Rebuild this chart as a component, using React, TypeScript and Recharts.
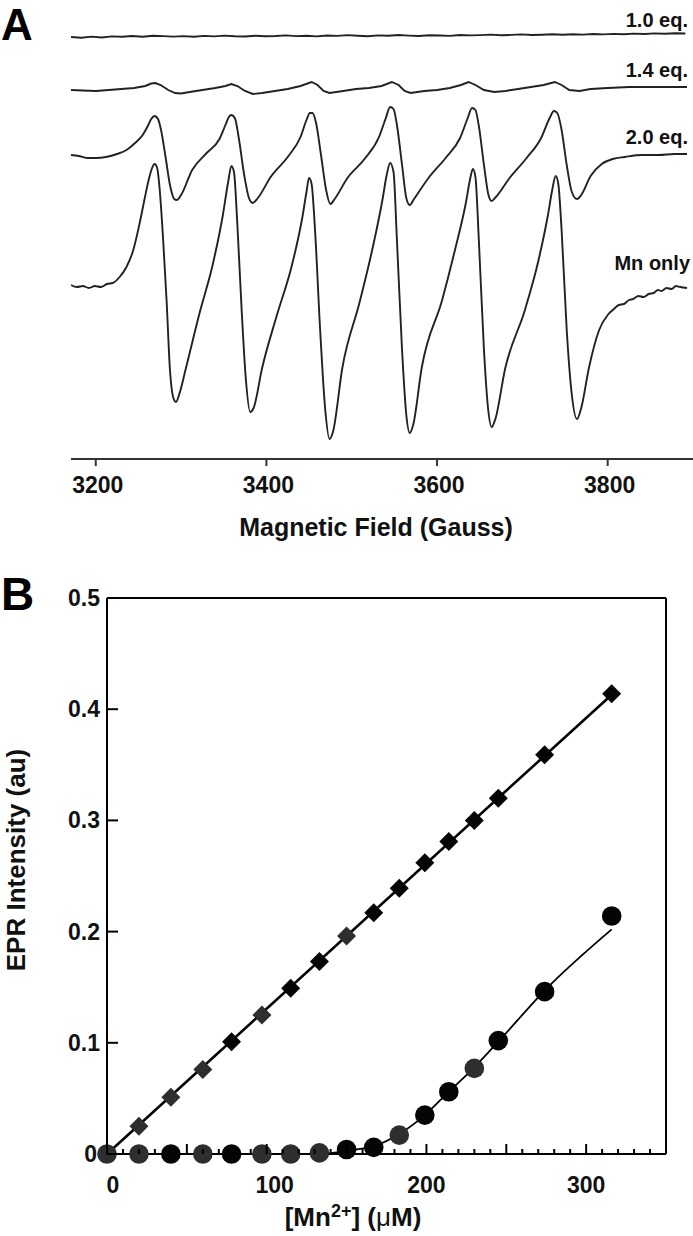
import React from "react";
import {
  LineChart,
  Line,
  XAxis,
  YAxis,
  ComposedChart,
  Scatter,
  Label,
  ReferenceLine,
} from "recharts";

const FONT = '"Liberation Sans", Arial, Helvetica, sans-serif';

// ---------------- Panel A: EPR spectra (field in Gauss, signal in arbitrary units) ----------------
const eq10Field = [3171, 3183, 3195, 3207, 3219, 3231, 3243, 3255, 3267, 3279, 3291, 3303, 3315, 3327, 3339, 3351, 3363, 3375, 3387, 3399, 3411, 3423, 3435, 3447, 3459, 3471, 3483, 3495, 3507, 3519, 3531, 3543, 3555, 3567, 3579, 3591, 3603, 3615, 3627, 3639, 3651, 3663, 3675, 3687, 3699, 3711, 3723, 3735, 3747, 3759, 3771, 3783, 3795, 3807, 3819, 3831, 3843, 3855, 3867, 3879, 3891];
const eq10Signal = [0.0, -0.8, 0.4, -0.5, 0.6, 0.2, 1.0, 0.3, 1.2, 0.9, 0.4, 0.9, 0.2, 1.1, 0.6, 1.4, 0.8, 0.5, 1.3, 0.7, 1.0, 1.6, 0.9, 1.2, 0.6, 1.5, 1.1, 1.9, 1.3, 0.8, 1.6, 1.2, 2.0, 1.4, 1.0, 1.8, 1.5, 1.1, 2.0, 1.6, 1.9, 2.4, 1.7, 2.1, 2.6, 2.0, 2.3, 2.8, 2.2, 2.7, 2.4, 3.0, 2.6, 3.1, 2.8, 3.4, 3.0, 3.6, 3.2, 3.8, 3.5];

const eq14Field = [3171, 3185, 3200, 3215, 3230, 3245, 3258, 3265, 3270, 3276, 3285, 3293, 3300, 3310, 3325, 3340, 3352, 3359, 3366, 3375, 3384, 3395, 3410, 3425, 3440, 3453, 3460, 3467, 3474, 3490, 3505, 3520, 3535, 3547, 3555, 3562, 3569, 3585, 3600, 3615, 3628, 3637, 3645, 3655, 3667, 3680, 3695, 3710, 3725, 3738, 3746, 3755, 3767, 3780, 3800, 3825, 3850, 3875, 3893];
const eq14Signal = [0, -0.5, -1, 0, 1, 2, 4, 6.5, 7, 5, 0, -3, -3.5, -2, 0, 2, 4, 6, 4, -1, -4, -3, -1, 1, 4, 8, 5, -1, -3, -1, 1, 2, 4, 8, 5, -1, -3, -1, 0, 2, 5, 8, 5, 0, -2, -1, 1, 3, 5, 8, 5, 0, -1, 1, 2, 3, 3, 3, 3];

const eq20Field = [3171, 3180, 3190, 3201, 3212, 3225, 3236, 3246, 3255, 3261, 3265, 3269, 3273, 3277, 3282, 3287, 3292, 3295, 3300, 3313, 3330, 3345, 3352, 3356, 3359, 3363, 3368, 3374, 3380, 3384, 3390, 3405, 3425, 3440, 3447, 3451, 3454, 3458, 3464, 3470, 3475, 3480, 3495, 3515, 3532, 3540, 3545, 3549, 3553, 3559, 3564, 3568, 3573, 3590, 3610, 3627, 3636, 3641, 3645, 3649, 3655, 3660, 3664, 3669, 3685, 3705, 3722, 3732, 3737, 3741, 3746, 3752, 3758, 3764, 3769, 3780, 3793, 3806, 3820, 3840, 3860, 3878, 3893];
const eq20Signal = [0, -1, -3, -3, -2, 1, 5, 12, 20, 29, 36, 39, 36, 23, -3, -30, -44, -45, -40, -15, 2, 16, 30, 38, 40, 37, 15, -20, -44, -48, -43, -22, -2, 18, 35, 42, 42, 33, 0, -35, -49, -44, -23, -4, 18, 37, 48, 46, 30, -10, -43, -50, -44, -23, -3, 17, 37, 47, 45, 29, -10, -39, -46, -42, -23, -3, 17, 37, 44, 42, 25, -10, -37, -44, -40, -21, -9, -4, -2, 0, 0, 1, 1];

const mnField = [3171, 3178, 3185, 3192, 3199, 3206, 3213, 3220, 3228, 3236, 3244, 3251, 3257, 3262, 3266, 3269, 3272, 3275, 3279, 3283, 3287, 3291, 3294, 3298, 3306, 3322, 3337, 3349, 3355, 3359, 3362, 3366, 3371, 3376, 3381, 3385, 3395, 3412, 3430, 3442, 3447, 3450, 3453, 3457, 3463, 3469, 3474, 3478, 3489, 3509, 3524, 3536, 3541, 3545, 3549, 3553, 3559, 3564, 3568, 3572, 3582, 3606, 3621, 3634, 3639, 3642, 3645, 3649, 3655, 3660, 3664, 3668, 3680, 3703, 3719, 3730, 3735, 3739, 3742, 3746, 3752, 3758, 3764, 3769, 3778, 3790, 3800, 3806, 3813, 3819, 3825, 3830, 3836, 3842, 3848, 3854, 3859, 3863, 3869, 3875, 3880, 3885, 3893];
const mnSignal = [0, -2, -1, -3, -1, -2, 1, 2, 8, 18, 35, 60, 85, 105, 117, 121, 117, 95, 45, -15, -85, -113, -117, -109, -82, -27, 20, 70, 102, 119, 113, 60, -25, -95, -127, -123, -83, -31, 20, 67, 93, 107, 101, 55, -45, -125, -154, -147, -83, -18, 35, 85, 110, 122, 113, 45, -65, -130, -148, -140, -83, -15, 35, 83, 107, 116, 108, 45, -65, -125, -142, -135, -83, -25, 25, 70, 95, 109, 102, 55, -45, -110, -134, -123, -83, -45, -30, -25, -20, -19, -15, -14, -11, -12, -9, -8, -5, -6, -3, -4, -1, -2, -3];

const traceLabels = ["1.0 eq.", "1.4 eq.", "2.0 eq.", "Mn only"];
const traceOffsets = [422, 369, 304, 174];
const fieldTicks = [3200, 3400, 3600, 3800];

// ---------------- Panel B: titration ----------------
const diamondGreyConc = [20, 40, 60, 97, 150];
const diamondGreyInt = [0.025, 0.051, 0.076, 0.125, 0.196];
const diamondBlackConc = [78, 115, 133, 167, 183, 199, 214, 230, 245, 274, 316];
const diamondBlackInt = [0.101, 0.149, 0.173, 0.217, 0.239, 0.262, 0.281, 0.300, 0.320, 0.359, 0.414];
const diamondFitConc = [0, 316];
const diamondFitInt = [0, 0.413];

const circleGreyConc = [0, 20, 60, 97, 115, 133, 183, 230];
const circleGreyInt = [0, 0, 0, 0, 0, 0.001, 0.017, 0.077];
const circleBlackConc = [40, 78, 150, 167, 199, 214, 245, 274, 316];
const circleBlackInt = [0, 0, 0.004, 0.006, 0.035, 0.056, 0.102, 0.146, 0.214];
const circleFitConc = [0, 133, 150, 167, 183, 199, 214, 230, 245, 274, 316];
const circleFitInt = [0, 0, 0.003, 0.007, 0.018, 0.035, 0.056, 0.078, 0.101, 0.147, 0.202];

const intensityTicks = [0, 0.1, 0.2, 0.3, 0.4, 0.5];
const concTicks = [0, 10, 20, 30, 40, 50, 60, 70, 80, 90, 100, 110, 120, 130, 140, 150, 160, 170, 180, 190, 200, 210, 220, 230, 240, 250, 260, 270, 280, 290, 300, 310, 320, 330, 340, 350];

const toSeries = (xs: number[], ys: number[], off = 0) =>
  xs.map((x, i) => ({ x, y: ys[i] + off }));

const spectra = [
  toSeries(eq10Field, eq10Signal, traceOffsets[0]),
  toSeries(eq14Field, eq14Signal, traceOffsets[1]),
  toSeries(eq20Field, eq20Signal, traceOffsets[2]),
  toSeries(mnField, mnSignal, traceOffsets[3]),
];
const curveTypes: any[] = ["linear", "linear", "monotone", "monotone"];

// layout constants
const A_W = 693;
const A_H = 560;
const A_BOTTOM = 459;
const B_H = 676;
const B_LEFT = 107;
const B_BOTTOM = 594;

const FieldTick = (props: any) => {
  const { x, payload } = props;
  return (
    <g>
      <line x1={x} x2={x} y1={A_BOTTOM} y2={A_BOTTOM + 7} stroke="#333" strokeWidth={2} />
      <text x={x + 2} y={493} textAnchor="middle" fontFamily={FONT} fontWeight="bold" fontSize={23} fill="#111">
        {payload.value}
      </text>
    </g>
  );
};

const IntensityTick = (props: any) => {
  const { y, payload } = props;
  const v = payload.value as number;
  return (
    <g>
      <line x1={B_LEFT} x2={B_LEFT + 11} y1={y} y2={y} stroke="#000" strokeWidth={2} />
      <text x={v === 0 ? 97 : 100} y={y + 8} textAnchor="end" fontFamily={FONT} fontWeight="bold" fontSize={23} fill="#111">
        {v === 0 ? "0" : v.toFixed(1)}
      </text>
    </g>
  );
};

const ConcTick = (props: any) => {
  const { x, payload } = props;
  const v = payload.value as number;
  const major = v % 50 === 0;
  return (
    <g>
      <line x1={x} x2={x} y1={B_BOTTOM} y2={B_BOTTOM - (major ? 10 : 5)} stroke="#000" strokeWidth={2} />
      {v % 100 === 0 && (
        <text x={x + (v === 0 ? 6 : v === 100 ? 8 : 0)} y={633} textAnchor="middle" fontFamily={FONT} fontWeight="bold" fontSize={23} fill="#111">
          {v}
        </text>
      )}
    </g>
  );
};

const diamondShape = (fill: string) => (props: any) => {
  const { cx, cy } = props;
  const h = 9.5;
  return <path d={`M${cx},${cy - h}L${cx + h},${cy}L${cx},${cy + h}L${cx - h},${cy}Z`} fill={fill} />;
};
const circleShape = (fill: string) => (props: any) => {
  const { cx, cy } = props;
  return <circle cx={cx} cy={cy} r={9.8} fill={fill} />;
};

export default function App() {
  return (
    <div style={{ position: "fixed", left: 0, top: 0, width: 693, height: 1236, background: "#fff", overflow: "hidden" }}>
      <div style={{ position: "absolute", left: 0, top: 0 }}>
        <LineChart width={A_W} height={A_H} margin={{ top: 19, right: 0, bottom: 21, left: 71 }}>
          <XAxis
            dataKey="x"
            type="number"
            domain={[3171, 3900]}
            allowDataOverflow
            ticks={fieldTicks}
            tick={<FieldTick />}
            tickLine={false}
            axisLine={{ stroke: "#333", strokeWidth: 2 }}
            height={80}
          >
            <Label
              content={() => (
                <text x={376} y={536} textAnchor="middle" fontFamily={FONT} fontWeight="bold" fontSize={25} fill="#111">
                  Magnetic Field (Gauss)
                </text>
              )}
            />
          </XAxis>
          <YAxis hide dataKey="y" type="number" domain={[0, 440]} allowDataOverflow />
          {spectra.map((d, i) => (
            <Line
              key={traceLabels[i]}
              data={d}
              dataKey="y"
              type={curveTypes[i]}
              stroke="#222"
              strokeWidth={1.9}
              dot={false}
              isAnimationActive={false}
            />
          ))}
        </LineChart>
      </div>
      <div style={{ position: "absolute", left: 0, top: A_H }}>
        <ComposedChart width={693} height={B_H} margin={{ top: 38, right: 27, bottom: 12, left: 47 }}>
          <XAxis
            dataKey="x"
            type="number"
            domain={[0, 350]}
            ticks={concTicks}
            interval={0}
            tick={<ConcTick />}
            tickLine={false}
            axisLine={{ stroke: "#000", strokeWidth: 2 }}
            height={70}
          >
            <Label
              content={() => (
                <text x={353} y={666} textAnchor="middle" fontFamily={FONT} fontWeight="bold" fontSize={26} fill="#111">
                  [Mn
                  <tspan dy={-9} fontSize={18}>2+</tspan>
                  <tspan dy={9}>] (</tspan>
                  <tspan fontWeight="normal">μ</tspan>
                  <tspan>M)</tspan>
                </text>
              )}
            />
          </XAxis>
          <YAxis
            dataKey="y"
            type="number"
            domain={[0, 0.5]}
            ticks={intensityTicks}
            interval={0}
            tick={<IntensityTick />}
            tickLine={false}
            axisLine={{ stroke: "#000", strokeWidth: 2 }}
            width={60}
          >
            <Label
              content={() => (
                <text
                  transform="translate(25, 300) rotate(-90)"
                  textAnchor="middle"
                  fontFamily={FONT}
                  fontWeight="bold"
                  fontSize={26}
                  fill="#111"
                >
                  EPR Intensity (au)
                </text>
              )}
            />
          </YAxis>
          <ReferenceLine y={0.5} stroke="#000" strokeWidth={2} />
          <ReferenceLine x={350} stroke="#000" strokeWidth={2} />
          <Line
            data={toSeries(diamondFitConc, diamondFitInt)}
            dataKey="y"
            type="linear"
            stroke="#000"
            strokeWidth={2.6}
            dot={false}
            isAnimationActive={false}
          />
          <Line
            data={toSeries(circleFitConc, circleFitInt)}
            dataKey="y"
            type="monotone"
            stroke="#000"
            strokeWidth={1.8}
            dot={false}
            isAnimationActive={false}
          />
          <Scatter data={toSeries(diamondGreyConc, diamondGreyInt)} dataKey="y" shape={diamondShape("#2e2e2e")} isAnimationActive={false} />
          <Scatter data={toSeries(diamondBlackConc, diamondBlackInt)} dataKey="y" shape={diamondShape("#050505")} isAnimationActive={false} />
          <Scatter data={toSeries(circleGreyConc, circleGreyInt)} dataKey="y" shape={circleShape("#2e2e2e")} isAnimationActive={false} />
          <Scatter data={toSeries(circleBlackConc, circleBlackInt)} dataKey="y" shape={circleShape("#050505")} isAnimationActive={false} />
        </ComposedChart>
      </div>
      <svg
        width={693}
        height={1236}
        style={{ position: "absolute", left: 0, top: 0, pointerEvents: "none" }}
      >
        <text x={1} y={40} fontFamily={FONT} fontWeight="bold" fontSize={44} fill="#000">A</text>
        <text x={1} y={610} fontFamily={FONT} fontWeight="bold" fontSize={46} fill="#000">B</text>
        <text x={688} y={27} textAnchor="end" fontFamily={FONT} fontWeight="bold" fontSize={20} fill="#111">{traceLabels[0]}</text>
        <text x={688} y={77} textAnchor="end" fontFamily={FONT} fontWeight="bold" fontSize={20} fill="#111">{traceLabels[1]}</text>
        <text x={688} y={144} textAnchor="end" fontFamily={FONT} fontWeight="bold" fontSize={20} fill="#111">{traceLabels[2]}</text>
        <text x={690} y={270} textAnchor="end" fontFamily={FONT} fontWeight="bold" fontSize={20} fill="#111">{traceLabels[3]}</text>
      </svg>
    </div>
  );
}
